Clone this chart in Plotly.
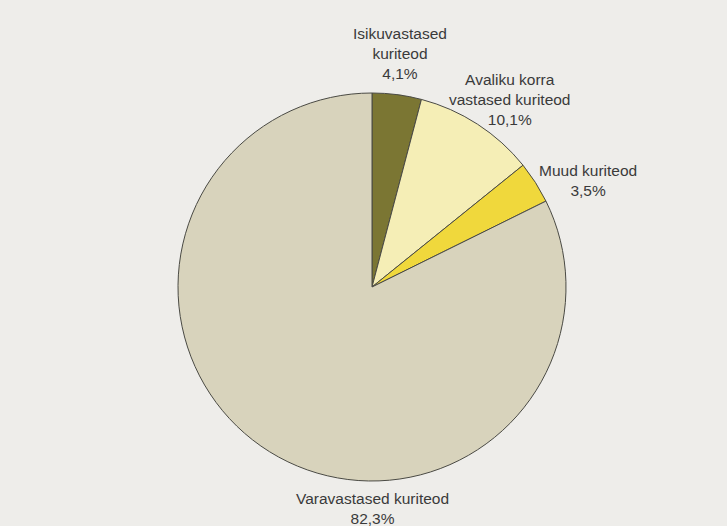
import plotly.graph_objects as go

categories = ["Isikuvastased kuriteod", "Avaliku korra vastased kuriteod",
              "Muud kuriteod", "Varavastased kuriteod"]
label_lines = ["Isikuvastased<br>kuriteod", "Avaliku korra<br>vastased kuriteod",
               "Muud kuriteod", "Varavastased kuriteod"]
values = [4.1, 10.1, 3.5, 82.3]
colors = ["#7b7633", "#f5eeb6", "#f0d83c", "#d8d3bc"]

W, H = 727, 526
cx, cy, r = 372, 287, 194
BG = "#eeedea"

fig = go.Figure(go.Pie(
    labels=categories, values=values, sort=False, direction="clockwise",
    rotation=0, textinfo="none", hoverinfo="label+percent",
    marker=dict(colors=colors, line=dict(color="#4a4a44", width=1)),
    domain=dict(x=[(cx - r) / W, (cx + r) / W],
                y=[(H - cy - r) / H, (H - cy + r) / H]),
    showlegend=False,
))

# label placement (pixel centres of each text block)
label_pos = [(400, 54), (510, 99), (588, 180), (372, 508)]
for txt, v, (lx, ly) in zip(label_lines, values, label_pos):
    pct = f"{v:.1f}".replace(".", ",") + "%"
    fig.add_annotation(
        x=lx / W, y=1 - ly / H, xref="paper", yref="paper",
        text=f"{txt}<br>{pct}", showarrow=False, align="center",
        xanchor="center", yanchor="middle",
        font=dict(family="Liberation Sans, Arial, sans-serif", size=15.5, color="#3a3a3a"),
    )

fig.update_layout(
    width=W, height=H, margin=dict(l=0, r=0, t=0, b=0),
    paper_bgcolor=BG, plot_bgcolor=BG,
)
fig.write_html(
    "out.html",
    config={"displayModeBar": False},
    post_script=("document.body.style.margin='0';"
                 "document.body.style.overflow='hidden';"
                 f"document.body.style.background='{BG}';"),
)
